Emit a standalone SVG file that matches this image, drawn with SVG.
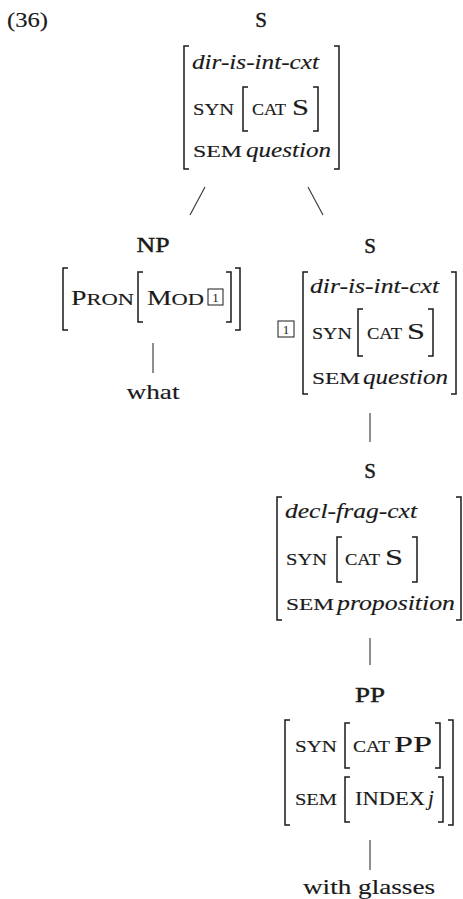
<svg xmlns="http://www.w3.org/2000/svg" width="463" height="899" viewBox="0 0 463 899">
<style>
text{font-family:"Liberation Serif","Times New Roman",serif;fill:#1a1a1a;stroke:#1a1a1a;stroke-width:0.15}
.h{font-size:21px;stroke-width:0.45}
.r{font-size:21px}
.i{font-size:21px;font-style:italic}
.sc{font-size:17px}
.ix{font-size:18px}
.big{font-size:23px}
.bx{font-size:13px;stroke-width:0}
.br{fill:none;stroke:#1a1a1a;stroke-width:1.5}
.ln{fill:none;stroke:#333;stroke-width:1.1}
.box{fill:none;stroke:#1a1a1a;stroke-width:1}
</style>
<rect width="463" height="899" fill="#fff"/>
<text class="r" x="7" y="27" textLength="41" lengthAdjust="spacingAndGlyphs">(36)</text>

<g id="connectors">
<line class="ln" x1="205" y1="187" x2="190" y2="215"/>
<line class="ln" x1="308" y1="187" x2="323" y2="215"/>
<line class="ln" x1="153" y1="343" x2="153" y2="373"/>
<line class="ln" x1="370" y1="413" x2="370" y2="442"/>
<line class="ln" x1="370" y1="638" x2="370" y2="665"/>
<line class="ln" x1="370" y1="840" x2="370" y2="870"/>
</g>

<g id="node-s-top">
<text class="h" x="261" y="27" text-anchor="middle">S</text>
<path class="br" d="M189,46 H184 V169 H189"/>
<path class="br" d="M334,46 H339 V169 H334"/>
<text class="i" x="192" y="69" textLength="127" lengthAdjust="spacingAndGlyphs">dir-is-int-cxt</text>
<text class="sc" x="193" y="115" textLength="41" lengthAdjust="spacingAndGlyphs">SYN</text>
<path class="br" d="M248,87 H243 V131 H248"/>
<text class="sc" x="252" y="115" textLength="34" lengthAdjust="spacingAndGlyphs">CAT</text>
<text class="big" x="292" y="115" textLength="17" lengthAdjust="spacingAndGlyphs">S</text>
<path class="br" d="M313,87 H318 V131 H313"/>
<text class="sc" x="193" y="157" textLength="49" lengthAdjust="spacingAndGlyphs">SEM</text>
<text class="i" x="246" y="157" textLength="85" lengthAdjust="spacingAndGlyphs">question</text>
</g>

<g id="node-np">
<text class="h" x="153" y="252" text-anchor="middle" textLength="33" lengthAdjust="spacingAndGlyphs">NP</text>
<path class="br" d="M68,268 H63 V330 H68"/>
<path class="br" d="M235,268 H240 V330 H235"/>
<text x="71" y="305" textLength="63" lengthAdjust="spacingAndGlyphs"><tspan class="r">P</tspan><tspan class="sc">RON</tspan></text>
<path class="br" d="M143,272 H138 V322 H143"/>
<text x="147" y="305" textLength="57" lengthAdjust="spacingAndGlyphs"><tspan class="r">M</tspan><tspan class="sc">OD</tspan></text>
<rect class="box" x="208" y="289" width="15" height="16"/>
<text class="bx" x="215.5" y="302" text-anchor="middle">1</text>
<path class="br" d="M226,272 H231 V322 H226"/>
</g>

<g id="node-what">
<text class="r" x="153" y="399" text-anchor="middle" textLength="53" lengthAdjust="spacingAndGlyphs">what</text>
</g>

<g id="node-s-right">
<text class="h" x="370" y="253" text-anchor="middle">S</text>
<rect class="box" x="278" y="321" width="16" height="16"/>
<text class="bx" x="286" y="334" text-anchor="middle">1</text>
<path class="br" d="M308,272 H303 V394 H308"/>
<path class="br" d="M451,272 H456 V394 H451"/>
<text class="i" x="310" y="293" textLength="129" lengthAdjust="spacingAndGlyphs">dir-is-int-cxt</text>
<text class="sc" x="312" y="339" textLength="40" lengthAdjust="spacingAndGlyphs">SYN</text>
<path class="br" d="M363,309 H358 V356 H363"/>
<text class="sc" x="367" y="339" textLength="35" lengthAdjust="spacingAndGlyphs">CAT</text>
<text class="big" x="407" y="339" textLength="18" lengthAdjust="spacingAndGlyphs">S</text>
<path class="br" d="M428,309 H433 V356 H428"/>
<text class="sc" x="312" y="384" textLength="48" lengthAdjust="spacingAndGlyphs">SEM</text>
<text class="i" x="363" y="384" textLength="85" lengthAdjust="spacingAndGlyphs">question</text>
</g>

<g id="node-s-decl">
<text class="h" x="370" y="478" text-anchor="middle">S</text>
<path class="br" d="M282,497 H277 V620 H282"/>
<path class="br" d="M456,497 H461 V620 H456"/>
<text class="i" x="285" y="518" textLength="132" lengthAdjust="spacingAndGlyphs">decl-frag-cxt</text>
<text class="sc" x="286" y="565" textLength="41" lengthAdjust="spacingAndGlyphs">SYN</text>
<path class="br" d="M342,537 H337 V582 H342"/>
<text class="sc" x="345" y="565" textLength="35" lengthAdjust="spacingAndGlyphs">CAT</text>
<text class="big" x="385" y="565" textLength="18" lengthAdjust="spacingAndGlyphs">S</text>
<path class="br" d="M412,537 H417 V582 H412"/>
<text class="sc" x="286" y="610" textLength="48" lengthAdjust="spacingAndGlyphs">SEM</text>
<text class="i" x="337" y="610" textLength="118" lengthAdjust="spacingAndGlyphs">proposition</text>
</g>

<g id="node-pp">
<text class="h" x="370" y="702" text-anchor="middle" textLength="30" lengthAdjust="spacingAndGlyphs">PP</text>
<path class="br" d="M290,720 H285 V825 H290"/>
<path class="br" d="M448,720 H453 V825 H448"/>
<text class="sc" x="295" y="752" textLength="42" lengthAdjust="spacingAndGlyphs">SYN</text>
<path class="br" d="M350,723 H345 V768 H350"/>
<text class="sc" x="353" y="752" textLength="37" lengthAdjust="spacingAndGlyphs">CAT</text>
<text class="big" x="394" y="752" textLength="38" lengthAdjust="spacingAndGlyphs">PP</text>
<path class="br" d="M435,723 H440 V768 H435"/>
<text class="sc" x="295" y="805" textLength="42" lengthAdjust="spacingAndGlyphs">SEM</text>
<path class="br" d="M350,777 H345 V822 H350"/>
<text class="ix" x="355" y="805" textLength="70" lengthAdjust="spacingAndGlyphs">INDEX</text>
<text class="i" x="428" y="805">j</text>
<path class="br" d="M438,777 H443 V822 H438"/>
</g>

<g id="node-glasses">
<text class="r" x="369" y="894" text-anchor="middle" textLength="132" lengthAdjust="spacingAndGlyphs">with glasses</text>
</g>
</svg>
